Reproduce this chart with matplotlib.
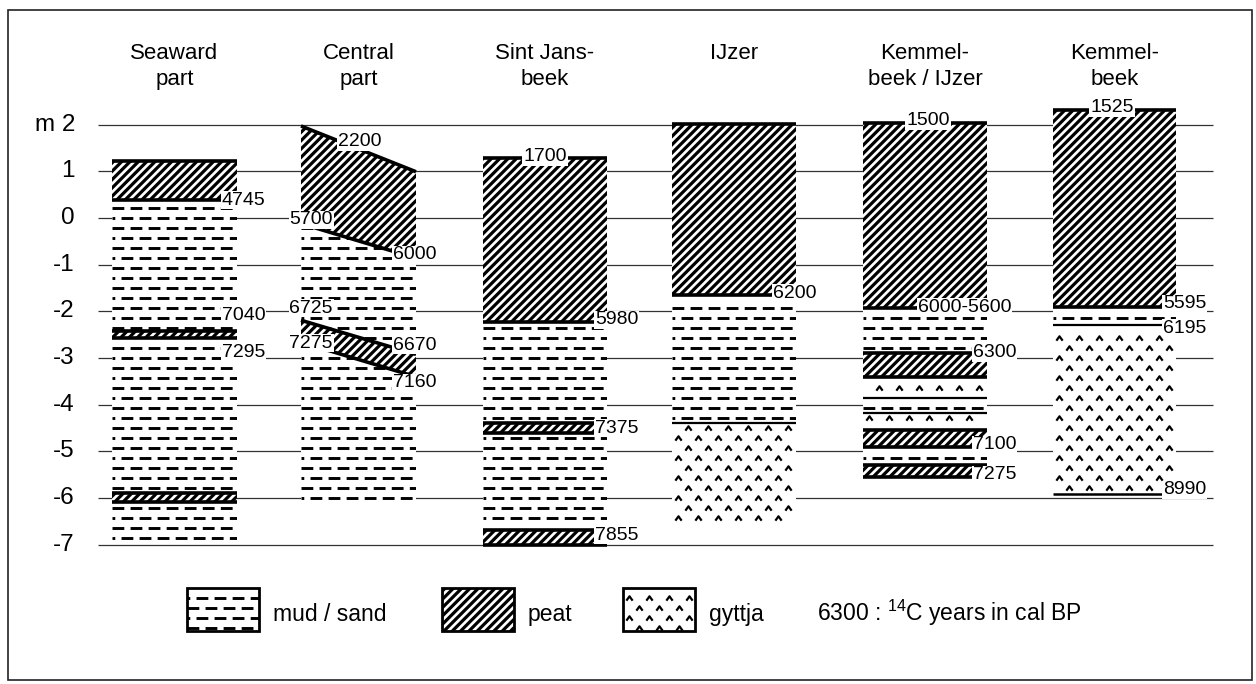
import numpy as np
import matplotlib.pyplot as plt
from matplotlib.patches import Polygon, Rectangle
from matplotlib.path import Path

plt.rcParams['font.family'] = 'Liberation Sans'
plt.rcParams['mathtext.default'] = 'regular'
plt.rcParams['hatch.linewidth'] = 2.3
plt.rcParams['lines.scale_dashes'] = False

# cores, left to right
sites = ['Seaward\npart', 'Central\npart', 'Sint Jans-\nbeek', 'IJzer',
         'Kemmel-\nbeek / IJzer', 'Kemmel-\nbeek']

# layers: (material, top, base) in m; Central part uses (left, right) depths
seaward = [('peat', 1.22, 0.39), ('mud', 0.39, -2.42), ('peat', -2.42, -2.57),
           ('mud', -2.57, -5.89), ('peat', -5.89, -6.08), ('mud', -6.08, -6.96)]
central = [('peat', (1.97, 0.99), (-0.12, -0.86)),
           ('mud', (-0.12, -0.86), (-2.19, -2.92)),
           ('peat', (-2.19, -2.92), (-2.66, -3.40)),
           ('mud', (-2.66, -3.40), -6.27)]
sint_jans = [('peat', 1.29, -2.23), ('mud', -2.23, -4.39), ('peat', -4.39, -4.60),
             ('mud', -4.60, -6.68), ('peat', -6.68, -7.0)]
ijzer = [('peat', 2.02, -1.65), ('mud', -1.65, -4.40), ('gyttja', -4.40, -6.51)]
kemmel_ijzer = [('peat', 2.04, -1.92), ('mud', -1.92, -2.89), ('peat', -2.89, -3.40),
                ('gyttja', -3.40, -3.85), ('mud', -3.85, -4.18), ('gyttja', -4.18, -4.54),
                ('peat', -4.54, -4.90), ('mud', -4.90, -5.29), ('peat', -5.29, -5.55)]
kemmel = [('peat', 2.32, -1.91), ('mud', -1.91, -2.30), ('gyttja', -2.30, -5.90)]
layers = [seaward, central, sint_jans, ijzer, kemmel_ijzer, kemmel]
# whether the base of a core is drawn as a contact line
base_line = [False, False, True, False, True, True]

# 14C dates (cal BP) with the depth they are written at
date_text = ['4745', '7040', '7295',
             '2200', '5700', '6000', '6725', '7275', '6670', '7160',
             '1700', '5980', '7375', '7855',
             '6200',
             '1500', '6000-5600', '6300', '7100', '7275',
             '1525', '5595', '6195', '8990']
date_depth = [0.385, -2.08, -2.87,
              1.63, -0.04, -0.79, -1.93, -2.68, -2.72, -3.53,
              1.31, -2.18, -4.50, -6.79,
              -1.61,
              2.08, -1.91, -2.89, -4.86, -5.50,
              2.36, -1.84, -2.36, -5.82]
date_x = [222, 222, 222,
          338, 333, 393, 333, 333, 393, 393,
          545, 595, 595, 595,
          773,
          928, 918, 973, 973, 973,
          1112, 1163, 1163, 1163]
date_ha = ['left'] * 3 + ['left', 'right', 'left', 'right', 'right', 'left', 'left'] \
    + ['center', 'left', 'left', 'left'] + ['left'] \
    + ['center', 'left', 'left', 'left', 'left'] + ['center', 'left', 'left', 'left']

yticks = [2, 1, 0, -1, -2, -3, -4, -5, -6, -7]
ytick_labels = ['m 2', '1', '0', '-1', '-2', '-3', '-4', '-5', '-6', '-7']

col_left = [112, 301, 483, 672, 863, 1053]
col_right = [237, 416, 607, 796, 987, 1176]

ROW = 0.214   # spacing of the mud / gyttja symbol rows (m)

fig = plt.figure(figsize=(12.56, 6.84), dpi=100)
ax = fig.add_axes([0, 0, 1, 1])
ax.set_xlim(0, 1256)
ax.set_ylim(-9.979, 4.668)
ax.axis('off')

caret = Path([(-1, -0.7), (0, 0.7), (1, -0.7)], [Path.MOVETO, Path.LINETO, Path.LINETO])


def mud(poly, x0, x1, lo, hi):
    for k in np.arange(np.ceil(lo / ROW + 0.3), np.floor(hi / ROW - 0.3) + 1):
        off = 0 if int(k) % 2 else 6.5
        ln, = ax.plot([x0, x1], [k * ROW, k * ROW], color='black', lw=2.1,
                      ls=(off, (8.5, 4.5)), dash_capstyle='butt', zorder=3)
        ln.set_clip_path(poly)


def gyttja(poly, x0, x1, lo, hi):
    for k in np.arange(np.ceil(lo / ROW + 0.3), np.floor(hi / ROW - 0.3) + 1):
        xs = np.arange(x0 + 6 + (10 if int(k) % 2 else 0), x1 - 2, 20)
        pts, = ax.plot(xs, np.full(len(xs), k * ROW), ls='none', marker=caret, ms=4.5,
                       mew=1.6, mec='black', mfc='none', zorder=3)
        pts.set_clip_path(poly)


def block(x0, x1, mat, top, base):
    tl, tr = np.broadcast_to(top, 2)
    bl, br = np.broadcast_to(base, 2)
    poly = Polygon([(x0, tl), (x1, tr), (x1, br), (x0, bl)], closed=True,
                   facecolor='white', edgecolor='black', lw=0,
                   hatch='////' if mat == 'peat' else None, zorder=2)
    ax.add_patch(poly)
    lo, hi = min(bl, br), max(tl, tr)
    if mat == 'mud':
        mud(poly, x0, x1, lo, hi)
    elif mat == 'gyttja':
        gyttja(poly, x0, x1, lo, hi)
    return poly


# grid lines behind the cores
ax.hlines(yticks, 98, 1213, color='#333333', lw=0.9, zorder=1)
for y, lab in zip(yticks, ytick_labels):
    ax.text(75, y, lab, ha='right', va='center', fontsize=17.5)

for i, site in enumerate(sites):
    x0, x1 = col_left[i], col_right[i]
    ax.text((x0 + x1) / 2, 3.75, site, ha='center', va='top', fontsize=16, linespacing=1.3)
    prev = None
    for mat, top, base in layers[i]:
        block(x0, x1, mat, top, base)
        tl, tr = np.broadcast_to(top, 2)
        if prev != mat:
            lw = 2.6 if 'peat' in (mat, prev) else 1.6
            if prev is None and mat != 'peat':
                lw = 0
            if lw:
                ax.plot([x0, x1], [tl, tr], color='black', lw=lw, zorder=4,
                        solid_capstyle='butt')
        prev = mat
    if base_line[i]:
        bl, br = np.broadcast_to(base, 2)
        ax.plot([x0, x1], [bl, br], color='black', lw=2.6 if prev == 'peat' else 1.8,
                zorder=4, solid_capstyle='butt')

for txt, d, x, ha in zip(date_text, date_depth, date_x, date_ha):
    ax.text(x, d, txt, ha=ha, va='center', fontsize=14, zorder=6,
            bbox=dict(facecolor='white', edgecolor='none', pad=0.5))

# legend
LEG_TOP, LEG_BOT = -7.92, -8.84
leg_items = [('mud', 187, 259, 'mud / sand'), ('peat', 442, 514, 'peat'),
             ('gyttja', 623, 695, 'gyttja')]
for mat, x0, x1, name in leg_items:
    block(x0, x1, mat, LEG_TOP, LEG_BOT)
    ax.add_patch(Rectangle((x0, LEG_BOT), x1 - x0, LEG_TOP - LEG_BOT, fill=False,
                           edgecolor='black', lw=2.0, zorder=5))
    ax.text(x1 + 14, -8.63, name, ha='left', va='baseline', fontsize=16.5)
ax.text(817, -8.63, '6300 : $^{14}$C years in cal BP', ha='left', va='baseline', fontsize=16.5)

# outer frame
fig.patches.append(Rectangle((8 / 1256, 4 / 684), 1244 / 1256, 670 / 684, fill=False,
                             edgecolor='#222222', lw=1.2, transform=fig.transFigure))

fig.savefig('out.png', dpi=100)
